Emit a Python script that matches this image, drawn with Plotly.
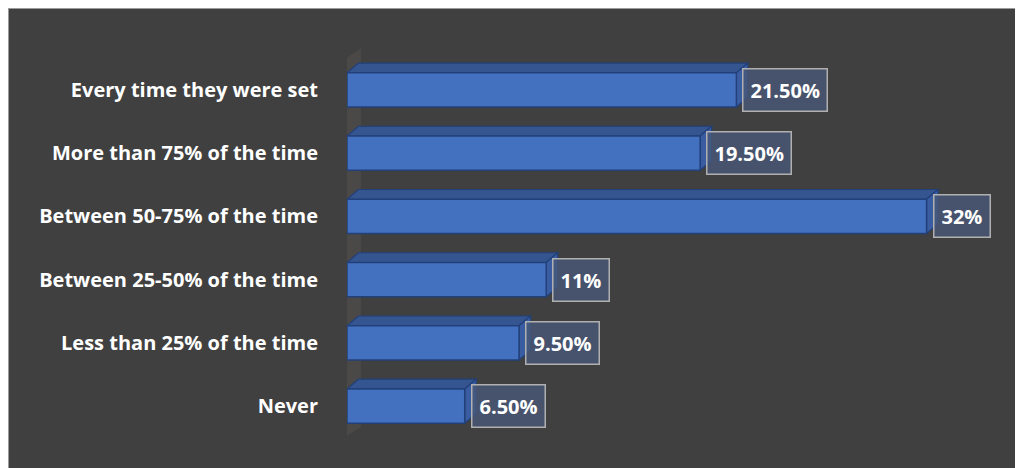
import plotly.graph_objects as go

categories = [
    "Every time they were set",
    "More than 75% of the time",
    "Between 50-75% of the time",
    "Between 25-50% of the time",
    "Less than 25% of the time",
    "Never",
]
values = [21.5, 19.5, 32, 11, 9.5, 6.5]
value_labels = ["21.50%", "19.50%", "32%", "11%", "9.50%", "6.50%"]

n = len(categories)
ypos = [n - 1 - i for i in range(n)]  # top to bottom

BG = "#404040"
FRONT = "#4470C0"
TOP = "#34558F"
SIDE = "#3A5DA2"
EDGE = "#22407A"

W, H = 1023, 468
ML, MR, MT, MB = 339, 32, 25, 13
XR = [0, 36]
YR = [-0.9, n - 0.1]
pw = W - ML - MR
ph = H - MT - MB
px_x = (XR[1] - XR[0]) / pw
px_y = (YR[1] - YR[0]) / ph

bw = 0.54
dx = 11.5 * px_x
dy = 9.8 * px_y

fig = go.Figure()

fig.add_trace(go.Bar(
    x=values, y=ypos, orientation="h", width=bw,
    marker=dict(color=FRONT, line=dict(color=EDGE, width=1.5)),
    hoverinfo="skip",
))

shapes = []
# back wall (decorative)
shapes.append(dict(
    type="path", xref="x", yref="y", layer="below",
    path="M -0.22,5.47 L 0.77,5.66 L 0.77,-0.33 L -0.22,-0.51 Z",
    fillcolor="#4b4848", line=dict(width=0),
))
for v, y in zip(values, ypos):
    t = y + bw / 2
    b = y - bw / 2
    shapes.append(dict(
        type="path", xref="x", yref="y", layer="below",
        path=f"M 0,{t} L {dx},{t+dy} L {v+dx},{t+dy} L {v},{t} Z",
        fillcolor=TOP, line=dict(color=EDGE, width=1.2),
    ))
    shapes.append(dict(
        type="path", xref="x", yref="y", layer="below",
        path=f"M {v},{t} L {v+dx},{t+dy} L {v+dx},{b+dy} L {v},{b} Z",
        fillcolor=SIDE, line=dict(color=EDGE, width=1.2),
    ))

# outer chart border (left and top edges only)
x_left = -ML / pw
x_right = 1 + MR / pw
y_bot = -MB / ph
y_top = 1 + MT / ph
shapes.append(dict(
    type="line", xref="paper", yref="paper", layer="above",
    x0=x_left, x1=x_left, y0=y_bot, y1=y_top,
    line=dict(color="#9a9a9a", width=2),
))
shapes.append(dict(
    type="line", xref="paper", yref="paper", layer="above",
    x0=x_left, x1=x_right, y0=y_top, y1=y_top,
    line=dict(color="#9a9a9a", width=2),
))

annotations = []
for v, y, lab in zip(values, ypos, value_labels):
    annotations.append(dict(
        x=v + 6 * px_x, y=y, xref="x", yref="y", text=lab,
        showarrow=False, xanchor="left", yanchor="middle",
        font=dict(family="Open Sans", size=20, color="white", weight="bold"),
        bgcolor="rgba(72,88,120,0.8)", bordercolor="#b0b0b0",
        borderwidth=1.5, borderpad=7,
    ))

fig.update_layout(
    width=W, height=H,
    margin=dict(l=ML, r=MR, t=MT, b=MB, pad=0),
    paper_bgcolor=BG, plot_bgcolor=BG,
    showlegend=False,
    shapes=shapes, annotations=annotations,
    xaxis=dict(range=XR, visible=False, fixedrange=True),
    yaxis=dict(
        range=YR, tickmode="array", tickvals=ypos, ticktext=categories,
        showgrid=False, zeroline=False, showline=False,
        ticks="outside", ticklen=24, tickcolor="rgba(0,0,0,0)",
        tickfont=dict(family="Open Sans", size=20, color="white", weight="bold"),
        fixedrange=True,
    ),
)

fig.write_html(
    "out.html",
    post_script=(
        "document.documentElement.style.overflow='hidden';"
        "document.body.style.overflow='hidden';"
    ),
)
